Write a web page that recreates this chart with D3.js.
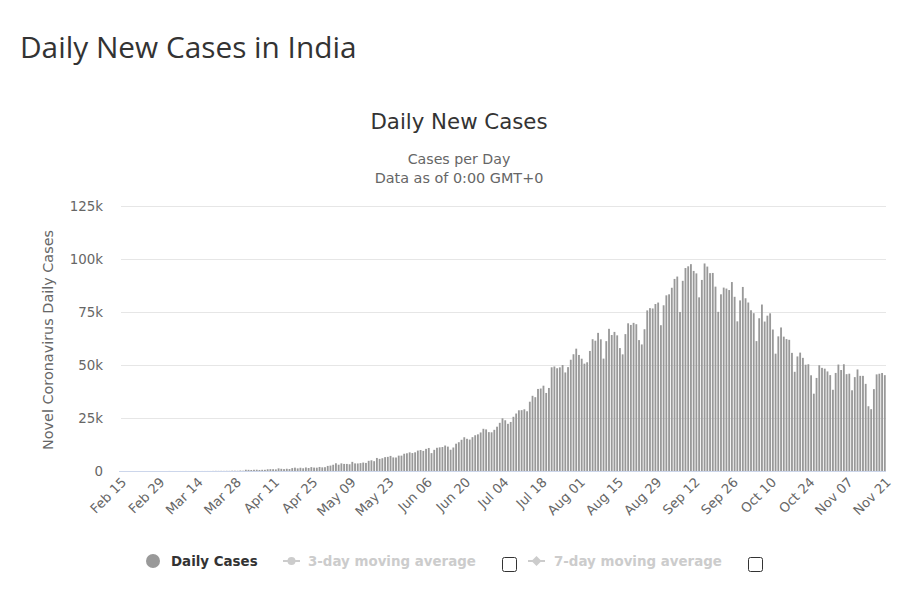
<!DOCTYPE html>
<html>
<head>
<meta charset="utf-8">
<script src="https://cdn.jsdelivr.net/npm/d3@7"></script>
<style>
  html, body { margin: 0; padding: 0; background: #fff; }
  svg { display: block; }
</style>
</head>
<body>
<svg id="chart" width="900" height="590"></svg>
<script>
// ---- Data ----
const startDate = "2020-02-15";
const dailyCases = [
  // Feb 15 - Feb 29
  0,0,0,0,0,0,0,0,0,0,0,0,0,0,0,
  // Mar 1 - Mar 31
  0,2,1,22,2,1,3,5,9,15,8,10,10,23,11,15,16,22,23,50,76,60,77,63,88,75,149,144,106,227,146,
  // Apr 1 - Apr 30
  601,545,478,579,609,484,573,565,813,871,854,758,1243,1031,886,1061,922,1371,1580,1239,1537,1292,1667,1408,1835,1607,1568,1902,1705,1801,
  // May 1 - May 31
  2396,2564,2952,3656,2971,3602,3344,3339,3175,4311,3592,3562,3726,3991,3808,4794,5049,4628,6154,5720,6023,6536,6667,7111,6414,6362,7246,7254,8138,8364,8789,
  // Jun 1 - Jun 30
  8471,8821,9633,9889,9471,10438,10864,8442,9985,10956,11157,11306,12023,11502,10032,11086,12881,13586,14721,15915,15183,14821,15968,16868,17296,18185,19906,19620,18339,18256,
  // Jul 1 - Jul 31
  19428,20903,22721,24850,23932,22252,23135,25571,27114,28637,28701,29108,28178,32682,35468,34820,38697,38902,40243,36810,39172,48916,49310,48472,48892,49981,46484,49001,52479,55079,57704,
  // Aug 1 - Aug 31
  54735,52972,50629,51282,56626,62170,61455,65156,62117,53016,61252,67066,64142,65609,63986,57981,55018,64572,69672,68900,69876,69239,61749,59696,66873,75760,76826,76665,78761,79457,68766,
  // Sep 1 - Sep 30
  78168,82860,83341,86432,90600,91723,75022,89706,95735,96551,97570,94372,93215,81911,90123,97894,96424,93337,93420,86961,75083,83347,86508,86052,85362,89129,82170,70589,80472,86821,
  // Oct 1 - Oct 31
  81484,79476,75829,74442,61267,72049,78524,70496,73272,74383,66732,55342,63509,67708,63371,62212,61871,55722,46790,54044,55839,53370,50129,50357,45148,36470,43893,49881,48648,48268,46963,
  // Nov 1 - Nov 21
  45231,38310,46253,50210,47638,50356,45674,45903,38073,44281,47905,44879,44878,41100,30548,29164,38617,45576,45882,46232,45209
];
const yTicks = [0, 25000, 50000, 75000, 100000, 125000];
const yTickLabels = ["0", "25k", "50k", "75k", "100k", "125k"];
const xTickEvery = 14;
const legendItems = ["Daily Cases", "3-day moving average", "7-day moving average"];

// ---- Build dates ----
const parse = d3.utcParse("%Y-%m-%d");
const fmt = d3.utcFormat("%b %d");
const t0 = parse(startDate);
const data = dailyCases.map((v, i) => ({ date: d3.utcDay.offset(t0, i), value: v, i }));

const svg = d3.select("#chart");
const m = { left: 119, right: 886, top: 206, bottom: 471 };

const x = d3.scaleBand().domain(data.map(d => d.i)).range([m.left, m.right]).paddingInner(0.33).paddingOuter(0.1);
const y = d3.scaleLinear().domain([0, 125000]).range([m.bottom, m.top]);

const lucida = "'DejaVu Sans', sans-serif";

// Page title
svg.append("text").attr("x", 20).attr("y", 58)
  .attr("font-family", "'Open Sans', sans-serif").attr("font-size", 29.8).attr("fill", "#333")
  .text("Daily New Cases in India");

// Chart title / subtitle
svg.append("text").attr("x", 459).attr("y", 129).attr("text-anchor", "middle")
  .attr("font-family", lucida).attr("font-size", 21.3).attr("fill", "#333")
  .text("Daily New Cases");
svg.append("text").attr("x", 459).attr("y", 164).attr("text-anchor", "middle")
  .attr("font-family", lucida).attr("font-size", 14.2).attr("fill", "#666")
  .text("Cases per Day");
svg.append("text").attr("x", 459).attr("y", 183).attr("text-anchor", "middle")
  .attr("font-family", lucida).attr("font-size", 14.4).attr("fill", "#666")
  .text("Data as of 0:00 GMT+0");

// Gridlines
const grid = svg.append("g");
grid.selectAll("line").data(yTicks.filter(t => t > 0)).join("line")
  .attr("x1", m.left + 2).attr("x2", m.right).attr("y1", d => Math.round(y(d)) + 0.5).attr("y2", d => Math.round(y(d)) + 0.5)
  .attr("stroke", "#e6e6e6").attr("stroke-width", 1);

// Y axis
const yAxis = d3.axisLeft(y).tickValues(yTicks).tickFormat((d, i) => yTickLabels[i]).tickSize(0).tickPadding(0);
const yg = svg.append("g").attr("transform", `translate(103,0)`).call(yAxis);
yg.select(".domain").remove();
yg.selectAll("text").attr("font-family", lucida).attr("font-size", 13.4).attr("fill", "#666");

svg.append("text").attr("transform", `translate(52.5,340) rotate(-90)`).attr("text-anchor", "middle")
  .attr("font-family", lucida).attr("font-size", 14.4).attr("fill", "#666")
  .text("Novel Coronavirus Daily Cases");

// Bars
svg.append("g").selectAll("rect").data(data).join("rect")
  .attr("x", d => x(d.i)).attr("width", x.bandwidth())
  .attr("y", d => y(d.value)).attr("height", d => y(0) - y(d.value))
  .attr("fill", "#999");

// X axis line
svg.append("line").attr("x1", m.left).attr("x2", m.right).attr("y1", m.bottom + 0.5).attr("y2", m.bottom + 0.5)
  .attr("stroke", "#ccd6eb").attr("stroke-width", 1);

// X labels
const xTicks = data.filter(d => d.i % xTickEvery === 0);
const xg = svg.append("g");
xg.selectAll("text").data(xTicks).join("text")
  .attr("transform", d => `translate(${x(d.i) + x.bandwidth() / 2 + 7},${m.bottom + 12}) rotate(-45)`)
  .attr("text-anchor", "end")
  .attr("font-family", lucida).attr("font-size", 13.2).attr("fill", "#666")
  .text(d => fmt(d.date));

// Legend
const lg = svg.append("g").attr("font-family", lucida).attr("font-size", 13.4).attr("font-weight", "bold");
lg.append("circle").attr("cx", 153).attr("cy", 561).attr("r", 7).attr("fill", "#999");
lg.append("text").attr("x", 171).attr("y", 566).attr("fill", "#333").text(legendItems[0]);

lg.append("line").attr("x1", 283).attr("x2", 300).attr("y1", 561).attr("y2", 561).attr("stroke", "#ccc").attr("stroke-width", 2);
lg.append("circle").attr("cx", 291.5).attr("cy", 561).attr("r", 4).attr("fill", "#ccc");
lg.append("text").attr("x", 308).attr("y", 566).attr("fill", "#ccc").text(legendItems[1]);
lg.append("rect").attr("x", 502.5).attr("y", 557.5).attr("width", 14).attr("height", 14).attr("rx", 2)
  .attr("fill", "#fff").attr("stroke", "#333").attr("stroke-width", 1);

lg.append("line").attr("x1", 528).attr("x2", 545).attr("y1", 561).attr("y2", 561).attr("stroke", "#ccc").attr("stroke-width", 2);
lg.append("path").attr("d", "M536.5,556 L541.5,561 L536.5,566 L531.5,561 Z").attr("fill", "#ccc");
lg.append("text").attr("x", 554).attr("y", 566).attr("fill", "#ccc").text(legendItems[2]);
lg.append("rect").attr("x", 748.5).attr("y", 557.5).attr("width", 14).attr("height", 14).attr("rx", 2)
  .attr("fill", "#fff").attr("stroke", "#333").attr("stroke-width", 1);
</script>
</body>
</html>
